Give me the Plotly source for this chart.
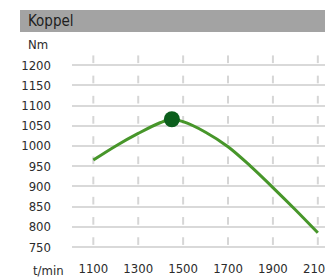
import plotly.graph_objects as go

rpm = [1100, 1200, 1300, 1400, 1450, 1500, 1600, 1700, 1800, 1900, 2000, 2100]
torque = [965, 1000, 1031, 1058, 1066, 1060, 1034, 998, 950, 897, 842, 785]
peak_rpm = [1450]
peak_torque = [1066]
x_ticks = [1100, 1300, 1500, 1700, 1900, 2100]
y_ticks = [750, 800, 850, 900, 950, 1000, 1050, 1100, 1150, 1200]

FONT = "DejaVu Sans Condensed, Liberation Sans, sans-serif"
TXT = "#2b2b2b"

fig = go.Figure()
fig.add_trace(go.Scatter(x=rpm, y=torque, mode="lines",
                         line=dict(color="#47962a", width=3, shape="spline", smoothing=1.0),
                         hoverinfo="skip"))
fig.add_trace(go.Scatter(x=peak_rpm, y=peak_torque, mode="markers",
                         marker=dict(color="#0b5e1c", size=16), hoverinfo="skip"))

shapes = []
for v in y_ticks:
    for xt in x_ticks:
        shapes.append(dict(type="line", xref="x", yref="y", x0=xt, x1=xt, y0=v + 5, y1=v + 24,
                           line=dict(color="#d6d6d6", width=2), layer="below"))
fig.update_layout(shapes=shapes)

W, H = 325, 278
ml, mr, mt, mb = 72, 0, 53, 25
pw, ph = W - ml - mr, H - mt - mb

def px2paper_x(px):
    return (px - ml) / pw

def px2paper_y(py):
    return (H - mb - py) / ph

fig.add_shape(type="rect", xref="paper", yref="paper",
              x0=px2paper_x(20), x1=px2paper_x(330), y0=px2paper_y(32), y1=px2paper_y(10),
              fillcolor="#a3a3a3", line=dict(width=0), layer="above")

fig.add_annotation(text="Koppel", xref="paper", yref="paper", x=px2paper_x(26), y=px2paper_y(21),
                   xanchor="left", yanchor="middle", showarrow=False,
                   font=dict(family=FONT, size=15, color="#1e1e1e"))
fig.add_annotation(text="Nm", xref="paper", yref="paper", x=px2paper_x(26), y=px2paper_y(45),
                   xanchor="left", yanchor="middle", showarrow=False,
                   font=dict(family=FONT, size=13, color=TXT))
fig.add_annotation(text="t/min", xref="paper", yref="paper", x=px2paper_x(31), y=px2paper_y(270),
                   xanchor="left", yanchor="middle", showarrow=False,
                   font=dict(family=FONT, size=13, color=TXT))

fig.update_xaxes(range=[1005, 2132], tickvals=x_ticks, ticktext=[str(t) for t in x_ticks],
                 showgrid=False, zeroline=False, showline=False, ticks="", automargin=False,
                 tickfont=dict(family=FONT, size=13, color=TXT), ticklabelstandoff=6,
                 ticklabeloverflow="allow")
fig.update_yaxes(range=[735, 1230], tickvals=y_ticks, ticktext=[str(t) for t in y_ticks],
                 showgrid=True, gridcolor="#d9d9d9", gridwidth=1.5, zeroline=False, showline=False,
                 ticks="", automargin=False,
                 tickfont=dict(family=FONT, size=13, color=TXT), ticklabelstandoff=20)

fig.update_layout(width=W, height=H, margin=dict(l=ml, r=mr, t=mt, b=mb),
                  paper_bgcolor="white", plot_bgcolor="white", showlegend=False)

fig.write_html("out.html", config={"displayModeBar": False},
               post_script="document.body.style.margin='0';document.body.style.overflow='hidden';")
